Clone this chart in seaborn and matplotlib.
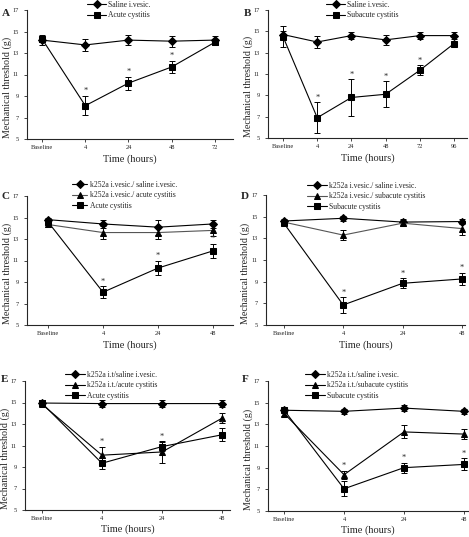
import matplotlib
matplotlib.use('Agg')
import matplotlib.pyplot as plt
import seaborn as sns

# ---- data ----
times_a = ['Baseline', '4', '24', '48', '72']
saline_a = [14.2, 13.75, 14.2, 14.1, 14.2]
saline_a_err = [0.45, 0.55, 0.45, 0.5, 0.35]
acute_a = [14.3, 8.1, 10.2, 11.7, 14.0]
acute_a_err = [0.3, 0.9, 0.6, 0.55, 0.25]

times_b = ['Baseline', '4', '24', '48', '72', '96']
saline_b = [14.7, 14.0, 14.6, 14.2, 14.6, 14.6]
saline_b_err = [0.35, 0.55, 0.3, 0.5, 0.3, 0.3]
subacute_b = [14.5, 6.9, 8.8, 9.1, 11.35, 13.85]
subacute_b_err = [1.0, 1.45, 1.7, 1.2, 0.45, 0.1]

times_c = ['Baseline', '4', '24', '48']
ksal_c = [14.8, 14.4, 14.1, 14.4]
ksal_c_err = [0.2, 0.4, 0.7, 0.4]
kac_c = [14.35, 13.6, 13.6, 13.8]
kac_c_err = [0.2, 0.6, 0.6, 0.5]
acute_c = [14.6, 8.05, 10.3, 11.9]
acute_c_err = [0.3, 0.55, 0.65, 0.65]

times_d = ['Baseline', '4', '24', '48']
ksal_d = [14.6, 14.85, 14.5, 14.55]
ksal_d_err = [0.2, 0.25, 0.3, 0.25]
ksub_d = [14.5, 13.3, 14.4, 13.9]
ksub_d_err = [0.2, 0.45, 0.3, 0.55]
sub_d = [14.4, 6.85, 8.85, 9.25]
sub_d_err = [0.2, 0.7, 0.45, 0.55]

times_e = ['Baseline', '4', '24', '48']
ksal_e = [14.95, 14.9, 14.9, 14.9]
ksal_e_err = [0.3, 0.35, 0.35, 0.35]
kac_e = [14.85, 10.1, 10.4, 13.55]
kac_e_err = [0.2, 0.8, 1.0, 0.45]
acute_e = [14.95, 9.35, 10.9, 12.0]
acute_e_err = [0.25, 0.5, 0.45, 0.6]

times_f = ['Baseline', '4', '24', '48']
ksal_f = [14.3, 14.2, 14.5, 14.2]
ksal_f_err = [0.2, 0.2, 0.25, 0.2]
kac_f = [14.0, 8.35, 12.3, 12.1]
kac_f_err = [0.2, 0.35, 0.6, 0.45]
sub_f = [14.3, 7.05, 9.0, 9.3]
sub_f_err = [0.2, 0.7, 0.45, 0.55]

W, H = 469, 537
sns.set_style('ticks')
plt.rcParams['font.family'] = ['Liberation Serif', 'DejaVu Serif']
plt.rcParams['axes.linewidth'] = 0.8

fig = plt.figure(figsize=(W / 100, H / 100), dpi=100)

MK = {'D': 3.6, 's': 4.6, '^': 4.9}


def px_axes(left, right, top, bottom):
    return fig.add_axes([left / W, 1 - bottom / H, (right - left) / W, (bottom - top) / H])


def draw_panel(ax, times, series, stars, xlim, letter, letter_xy, leg_xy, hlen, ylab_x, xlab_dy=15):
    pos = list(range(len(times)))
    for vals, errs, mk, col, lab in series:
        sns.lineplot(x=pos, y=vals, marker=mk, color=col, markersize=MK[mk],
                     markeredgecolor='black', markerfacecolor='black',
                     linewidth=0.8, label=lab, ax=ax)
        ax.errorbar(pos, vals, yerr=errs, fmt='none', ecolor='black',
                    elinewidth=0.7, capsize=2.4, capthick=0.7)
    for i, k in stars:
        vals, errs = series[k][0], series[k][1]
        ax.text(i, vals[i] + errs[i] + 0.45, '*', ha='center', va='center', fontsize=6)
    ax.set_xlim(*xlim)
    ax.set_ylim(5, 17)
    ax.set_xticks(pos)
    ax.set_xticklabels(times)
    ax.set_yticks(range(5, 18, 2))
    ax.tick_params(axis='both', labelsize=4.6, length=2, width=0.6, pad=2.5)
    ax.tick_params(axis='y', pad=4)
    sns.despine(ax=ax)
    ax.set_xlabel('Time (hours)', fontsize=7.5)
    ax.set_ylabel('Mechanical threshold (g)', fontsize=7.2)
    bb = ax.get_position()
    l_px = bb.x0 * W
    w_px = bb.width * W
    h_px = bb.height * H
    # label anchor is the right edge of the rotated text
    ax.yaxis.set_label_coords((ylab_x + 5 - l_px) / w_px, 0.4)
    ax.xaxis.set_label_coords(0.5, -xlab_dy / h_px)
    ax.legend(loc='upper left', bbox_to_anchor=(leg_xy[0] / W, 1 - (leg_xy[1] - 4) / H),
              bbox_transform=fig.transFigure, frameon=False, fontsize=5.5,
              borderpad=0, borderaxespad=0, handlelength=hlen, handletextpad=0.3,
              labelspacing=0.3)
    fig.text(letter_xy[0] / W, 1 - letter_xy[1] / H, letter, fontsize=8,
             fontweight='bold', ha='left', va='center')


ax_a = px_axes(27, 233, 10, 139)
draw_panel(ax_a, times_a,
           [(saline_a, saline_a_err, 'D', 'black', 'Saline i.vesic.'),
            (acute_a, acute_a_err, 's', 'black', 'Acute cystitis')],
           [(1, 1), (2, 1), (3, 1)], (-0.35, 4.42), 'A', (2, 13), (87, 5), 2.5, 7)

ax_b = px_axes(268, 467, 10, 138)
draw_panel(ax_b, times_b,
           [(saline_b, saline_b_err, 'D', 'black', 'Saline i.vesic.'),
            (subacute_b, subacute_b_err, 's', 'black', 'Subacute cystitis')],
           [(1, 1), (2, 1), (3, 1), (4, 1)], (-0.44, 5.38), 'B', (244, 13), (326, 5), 2.5, 248)

ax_c = px_axes(27, 233, 196, 325)
draw_panel(ax_c, times_c,
           [(ksal_c, ksal_c_err, 'D', 'black', 'k252a i.vesic./ saline i.vesic.'),
            (kac_c, kac_c_err, '^', '#555555', 'k252a i.vesic./ acute cystitis'),
            (acute_c, acute_c_err, 's', 'black', 'Acute cystitis')],
           [(1, 2), (2, 2), (3, 2)], (-0.38, 3.36), 'C', (2, 196), (72, 185), 2.0, 7)

ax_d = px_axes(266, 465, 195, 325)
draw_panel(ax_d, times_d,
           [(ksal_d, ksal_d_err, 'D', 'black', 'k252a i.vesic./ saline i.vesic.'),
            (ksub_d, ksub_d_err, '^', '#555555', 'k252a i.vesic./ subacute cystitis'),
            (sub_d, sub_d_err, 's', 'black', 'Subacute cystitis')],
           [(1, 2), (2, 2), (3, 2)], (-0.3, 3.05), 'D', (241, 196), (307, 186), 2.6, 245)

ax_e = px_axes(25, 230, 381, 510)
draw_panel(ax_e, times_e,
           [(ksal_e, ksal_e_err, 'D', 'black', 'k252a i.t/saline i.vesic.'),
            (kac_e, kac_e_err, '^', 'black', 'k252a i.t./acute cystitis'),
            (acute_e, acute_e_err, 's', 'black', 'Acute cystitis')],
           [(1, 1), (2, 2), (3, 2)], (-0.28, 3.13), 'E', (1, 380), (65, 375), 2.6, 5, 14)

ax_f = px_axes(268, 468, 381, 511)
draw_panel(ax_f, times_f,
           [(ksal_f, ksal_f_err, 'D', 'black', 'k252a i.t./saline i.vesic.'),
            (kac_f, kac_f_err, '^', 'black', 'k252a i.t./subacute cystitis'),
            (sub_f, sub_f_err, 's', 'black', 'Subacute cystitis')],
           [(1, 1), (2, 2), (3, 2)], (-0.27, 3.07), 'F', (242, 380), (305, 375), 2.6, 248, 14)

fig.savefig('out.png', dpi=100)
